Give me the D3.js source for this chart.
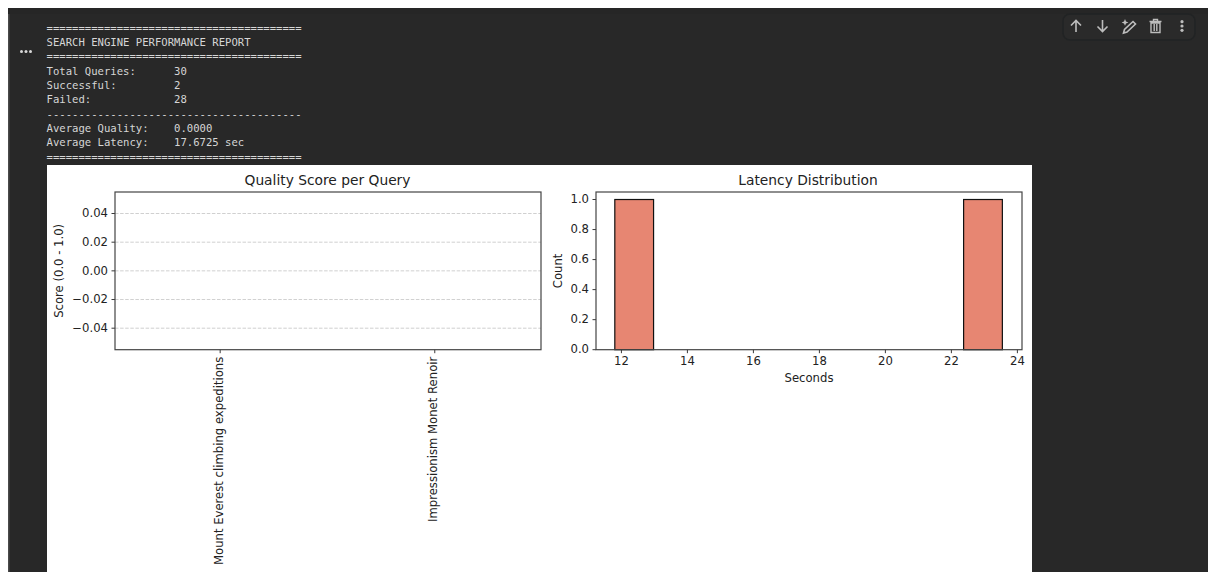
<!DOCTYPE html>
<html>
<head>
<meta charset="utf-8">
<script src="https://cdn.jsdelivr.net/npm/d3@7"></script>
<style>
html,body{margin:0;padding:0;background:#fff;overflow:hidden}
svg{display:block}
text{font-family:"DejaVu Sans",sans-serif}
.mono{font-family:"DejaVu Sans Mono",monospace;font-size:10.6px;fill:#d6d6d6}
</style>
</head>
<body>
<svg id="c" width="1209" height="572"></svg>
<script>
const reportLines = [
  "========================================",
  "SEARCH ENGINE PERFORMANCE REPORT",
  "========================================",
  "Total Queries:      30",
  "Successful:         2",
  "Failed:             28",
  "----------------------------------------",
  "Average Quality:    0.0000",
  "Average Latency:    17.6725 sec",
  "========================================"
];
const queries = ["Mount Everest climbing expeditions", "Impressionism Monet Renoir"];
const qualityScores = [0, 0];
const scoreTicks = [-0.04, -0.02, 0, 0.02, 0.04];
const latencies = [11.8, 23.545];
const latencyTicks = [12, 14, 16, 18, 20, 22, 24];
const countTicks = [0, 0.2, 0.4, 0.6, 0.8, 1.0];
const binCount = 10;

const svg = d3.select("#c");
const ink = "#222";
const labelSize = "11.65px";

// notebook chrome
svg.append("rect").attr("x", 8).attr("y", 8).attr("width", 1200).attr("height", 564).attr("fill", "#282828");
svg.append("rect").attr("x", 8).attr("y", 8).attr("width", 1.5).attr("height", 564).attr("fill", "#4a4a4a");
svg.append("rect").attr("x", 8).attr("y", 8).attr("width", 1200).attr("height", 6).attr("fill", "#262626");

svg.selectAll("circle.run").data([-4.5, 0, 4.5]).join("circle")
  .attr("class", "run").attr("cx", d => 26 + d).attr("cy", 51.5).attr("r", 1.5).attr("fill", "#d8d8d8");

// toolbar
const bar = svg.append("g");
bar.append("rect").attr("x", 1063).attr("y", 14).attr("width", 132).attr("height", 26).attr("rx", 7)
  .attr("fill", "#2a2a2a").attr("stroke", "#212324").attr("stroke-width", 1.5);
const ic = "#bdbdbd";
const icon = (d, w) => bar.append("path").attr("d", d).attr("fill", "none").attr("stroke", ic).attr("stroke-width", w || 1.6);
icon("M1076 32V20.5M1071 25.5L1076 20.5L1081 25.5");
icon("M1102.5 20V31.5M1097.5 26.5L1102.5 31.5L1107.5 26.5");
icon("M1123.5 33L1124.5 29.5L1133 21.5L1135.5 24L1127 32Z");
bar.append("path").attr("d", "M1125 19l1 2.4 2.4 1-2.4 1-1 2.4-1-2.4-2.4-1 2.4-1z").attr("fill", ic);
icon("M1151 23H1160V32.5H1151ZM1149.5 21.5H1161.5M1153.5 21V19.5H1157.5V21M1154.2 24V31M1156.8 24V31", 1.4);
svg.selectAll("circle.more").data([-4.3, 0, 4.3]).join("circle")
  .attr("class", "more").attr("cx", 1182).attr("cy", d => 26 + d).attr("r", 1.6).attr("fill", ic);

// text report
svg.append("g").selectAll("text").data(reportLines).join("text")
  .attr("class", "mono").style("white-space", "pre")
  .attr("x", 46.5).attr("y", (d, i) => 31.5 + i * 14.35).text(d => d);

// figure
svg.append("rect").attr("x", 47).attr("y", 165).attr("width", 985).attr("height", 407).attr("fill", "#fff");

const plotTop = 192, plotBottom = 349.7;

function styleAxis(g) {
  g.select(".domain").remove();
  g.selectAll(".tick line").attr("stroke", ink).attr("stroke-width", 0.9);
  g.selectAll(".tick text").attr("fill", ink).style("font-size", labelSize).style("font-family", '"DejaVu Sans",sans-serif');
}
function frame(l, r) {
  svg.append("rect").attr("x", l).attr("y", plotTop).attr("width", r - l).attr("height", plotBottom - plotTop)
    .attr("fill", "none").attr("stroke", "#444").attr("stroke-width", 1.2);
}
function title(t, cx) {
  svg.append("text").attr("x", cx).attr("y", 185).attr("text-anchor", "middle")
    .attr("fill", ink).style("font-size", "13.8px").text(t);
}
function yLabel(t, x) {
  svg.append("text").attr("transform", `translate(${x},${(plotTop + plotBottom) / 2}) rotate(-90)`)
    .attr("text-anchor", "middle").attr("fill", ink).style("font-size", labelSize).text(t);
}
const minus = v => v.toFixed(2).replace("-", "\u2212");

// left panel
const lL = 115, lR = 541;
const xQ = d3.scaleLinear().domain([-0.49, 1.495]).range([lL, lR]);
const yQ = d3.scaleLinear().domain([-0.055, 0.055]).range([plotBottom, plotTop]);

svg.append("g").selectAll("line").data(scoreTicks).join("line")
  .attr("x1", lL).attr("x2", lR).attr("y1", d => yQ(d)).attr("y2", d => yQ(d))
  .attr("stroke", "#c4c4c4").attr("stroke-width", 0.8).attr("stroke-dasharray", "3.5,1.6");

svg.append("g").selectAll("rect").data(qualityScores).join("rect")
  .attr("x", (d, i) => xQ(i - 0.4)).attr("width", xQ(0.8) - xQ(0))
  .attr("y", d => Math.min(yQ(d), yQ(0))).attr("height", d => Math.abs(yQ(d) - yQ(0)))
  .attr("fill", "#87ceeb");

svg.append("g").attr("transform", `translate(${lL},0)`)
  .call(d3.axisLeft(yQ).tickValues(scoreTicks).tickFormat(minus).tickSize(3.5).tickPadding(3.5).offset(0))
  .call(styleAxis);
const axQ = svg.append("g").attr("transform", `translate(0,${plotBottom})`)
  .call(d3.axisBottom(xQ).tickValues(queries.map((d, i) => i)).tickFormat(i => queries[i]).tickSize(3.5).offset(0))
  .call(styleAxis);
axQ.selectAll(".tick text")
  .attr("transform", "rotate(-90)").attr("text-anchor", "end").attr("dy", "0.34em")
  .attr("x", -7).attr("y", -1.5);
frame(lL, lR);
title("Quality Score per Query", 327.5);
yLabel("Score (0.0 - 1.0)", 63);

// right panel
const rL = 596, rR = 1022;
const xL = d3.scaleLinear().domain([11.23, 24.14]).range([rL, rR]);
const yL = d3.scaleLinear().domain([0, 1.05]).range([plotBottom, plotTop]);
const [lo, hi] = d3.extent(latencies);
const bins = d3.bin().domain([lo, hi])
  .thresholds(d3.range(1, binCount).map(i => lo + (hi - lo) * i / binCount))(latencies);

svg.append("g").selectAll("rect").data(bins).join("rect")
  .attr("x", d => xL(d.x0)).attr("width", d => xL(d.x1) - xL(d.x0))
  .attr("y", d => yL(d.length)).attr("height", d => yL(0) - yL(d.length))
  .attr("fill", "#e78672").attr("stroke", "#111").attr("stroke-width", 1.2);

svg.append("g").attr("transform", `translate(${rL},0)`)
  .call(d3.axisLeft(yL).tickValues(countTicks).tickFormat(d3.format(".1f")).tickSize(3.5).tickPadding(3.5).offset(0))
  .call(styleAxis);
svg.append("g").attr("transform", `translate(0,${plotBottom})`)
  .call(d3.axisBottom(xL).tickValues(latencyTicks).tickFormat(d3.format("d")).tickSize(3.5).tickPadding(3.5).offset(0))
  .call(styleAxis);
frame(rL, rR);
title("Latency Distribution", 808);
yLabel("Count", 562);
svg.append("text").attr("x", 809).attr("y", 382).attr("text-anchor", "middle")
  .attr("fill", ink).style("font-size", labelSize).text("Seconds");
</script>
</body>
</html>
